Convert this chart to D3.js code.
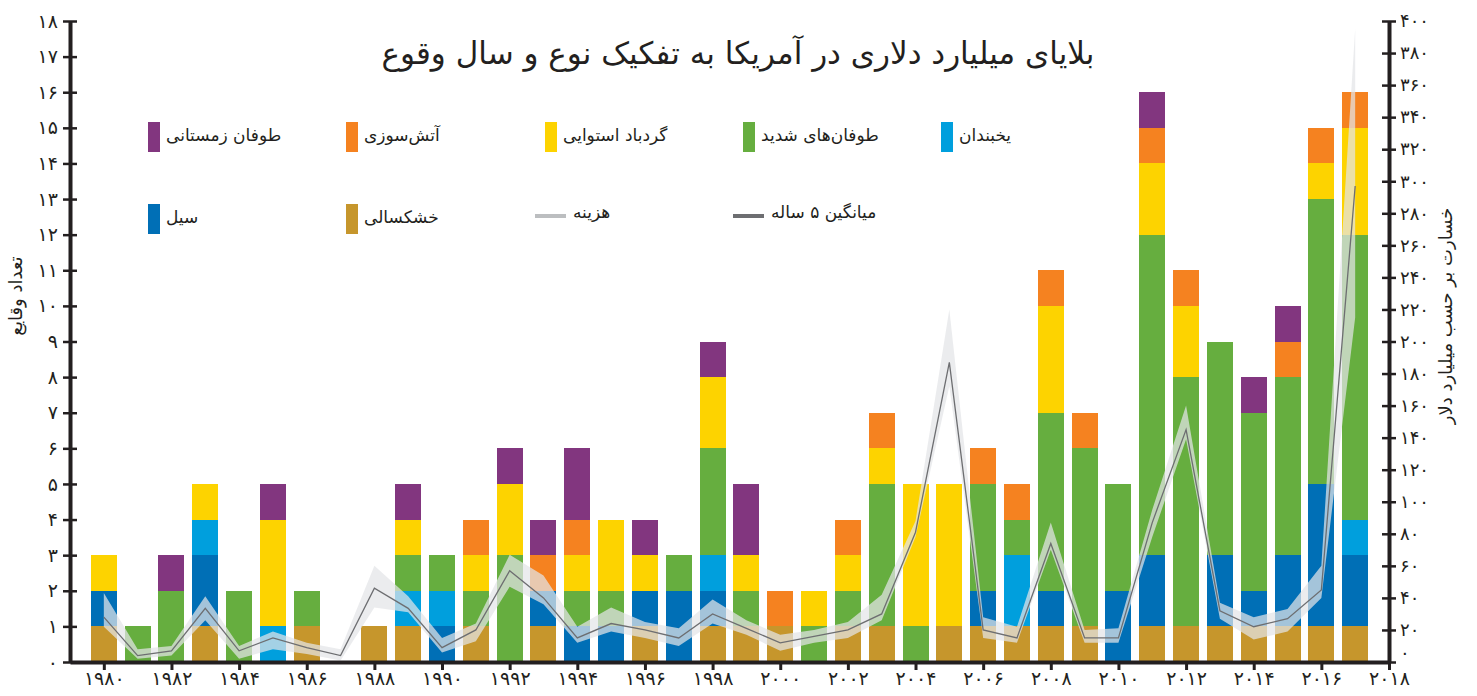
<!DOCTYPE html>
<html lang="fa">
<head>
<meta charset="UTF-8">
<title>بلایای میلیارد دلاری در آمریکا</title>
<script src="https://d3js.org/d3.v7.min.js"></script>
<style>
  body { margin: 0; background: #fff; }
  svg { display: block; font-family: "DejaVu Sans", sans-serif; }
  .axis path, .axis line { stroke: #231f20; }
  .axis text { fill: #231f20; font-family: "DejaVu Sans", sans-serif; }
</style>
</head>
<body>
<svg width="1477" height="696"></svg>
<script>
// one value per year, 1980 .. 2017
const years = [1980, 1981, 1982, 1983, 1984, 1985, 1986, 1987, 1988, 1989,
               1990, 1991, 1992, 1993, 1994, 1995, 1996, 1997, 1998, 1999,
               2000, 2001, 2002, 2003, 2004, 2005, 2006, 2007, 2008, 2009,
               2010, 2011, 2012, 2013, 2014, 2015, 2016, 2017];

// event counts by type (stack order bottom -> top)
const drought  = [1,0,0,1,0,0,1,0,1,1, 0,1,0,1,0,0,1,0,1,1, 1,0,1,1,0,1,1,1,1,1, 0,1,1,1,1,1,1,1];
const flood    = [1,0,0,2,0,0,0,0,0,0, 1,0,0,1,1,1,1,2,1,0, 0,0,0,0,0,0,1,0,1,0, 2,2,0,2,1,2,4,2];
const freeze   = [0,0,0,1,0,1,0,0,0,1, 1,0,0,0,0,0,0,0,1,0, 0,0,0,0,0,0,0,2,0,0, 0,0,0,0,0,0,0,1];
const severe   = [0,1,2,0,2,0,1,0,0,1, 1,1,3,0,1,1,0,1,3,1, 0,1,1,4,1,0,3,1,5,5, 3,9,7,6,5,5,8,8];
const tropical = [1,0,0,1,0,3,0,0,0,1, 0,1,2,0,1,2,1,0,2,1, 0,1,1,1,4,4,0,0,3,0, 0,2,2,0,0,0,1,3];
const wildfire = [0,0,0,0,0,0,0,0,0,0, 0,1,0,1,1,0,0,0,0,0, 1,0,1,1,0,0,1,1,1,1, 0,1,1,0,0,1,1,1];
const winter   = [0,0,1,0,0,1,0,0,0,1, 0,0,1,1,2,0,1,0,1,2, 0,0,0,0,0,0,0,0,0,0, 0,1,0,0,1,1,0,0];

// cost in billion dollars (right axis): band and line
const costUpper = [43,8,10,41,10,19,12,8,60,41, 15,24,67,54,22,34,25,21,39,26, 17,20,25,42,88,220,28,22,87,20, 21,95,160,37,28,33,60,395];
const costLower = [22,2,4,26,2,8,5,1,34,31, 6,13,47,36,12,19,15,10,24,17, 7,12,15,26,78,172,15,12,70,12, 12,78,139,27,14,19,40,215];
const avgLine   = [28,4,7,33.5,7,15,9,4,46,33.5, 9,20,57,40,15,24,20,15,30,21, 12,16,20,30,81,187,20,15,74,15, 15,87,145,32,22,27,45,297];

// tick labels
const yearTicks  = [1980,1982,1984,1986,1988,1990,1992,1994,1996,1998,2000,2002,2004,2006,2008,2010,2012,2014,2016,2018];
const countTicks = [0,1,2,3,4,5,6,7,8,9,10,11,12,13,14,15,16,17,18];
const costTicks  = [0,20,40,60,80,100,120,140,160,180,200,220,240,260,280,300,320,340,360,380,400];

const keys = ["drought", "flood", "freeze", "severe", "tropical", "wildfire", "winter"];
const series = { drought, flood, freeze, severe, tropical, wildfire, winter };
const colors = {
  drought: "#c6962c", flood: "#006fb6", freeze: "#009fdd", severe: "#66ae3f",
  tropical: "#fdd300", wildfire: "#f58220", winter: "#82367f"
};
const names = {
  drought: "خشکسالی", flood: "سیل", freeze: "یخبندان", severe: "طوفان‌های شدید",
  tropical: "گردباد استوایی", wildfire: "آتش‌سوزی", winter: "طوفان زمستانی"
};

const faDigits = "۰۱۲۳۴۵۶۷۸۹";
const fa = n => String(n).replace(/\d/g, d => faDigits[d]);

const rows = years.map((year, i) => {
  const row = { year };
  keys.forEach(k => row[k] = series[k][i]);
  return row;
});

const svg = d3.select("svg");

const x = d3.scaleLinear().domain([1979, 2018]).range([70, 1389]);
const yCount = d3.scaleLinear().domain([0, 18]).range([662, 21]);
const yCost = d3.scaleLinear().domain([0, 400]).range([662, 21]);

// title
svg.append("text")
  .attr("x", 738).attr("y", 64)
  .attr("text-anchor", "middle")
  .attr("direction", "rtl")
  .attr("font-size", 31)
  .attr("fill", "#231f20")
  .text("بلایای میلیارد دلاری در آمریکا به تفکیک نوع و سال وقوع");

// stacked bars
const stacked = d3.stack().keys(keys)(rows);
svg.append("g")
  .selectAll("g")
  .data(stacked)
  .join("g")
  .attr("fill", d => colors[d.key])
  .selectAll("rect")
  .data(d => d)
  .join("rect")
  .attr("shape-rendering", "crispEdges")
  .attr("x", d => x(d.data.year) - 13)
  .attr("width", 26)
  .attr("y", d => yCount(d[1]))
  .attr("height", d => yCount(d[0]) - yCount(d[1]));

// cost band + line
const area = d3.area()
  .x((d, i) => x(years[i]))
  .y0((d, i) => yCost(costLower[i]))
  .y1((d, i) => yCost(costUpper[i]));
svg.append("path")
  .datum(years)
  .attr("d", area)
  .attr("fill", "#e3e5e8")
  .attr("fill-opacity", 0.72);

const line = d3.line()
  .x((d, i) => x(years[i]))
  .y(d => yCost(d));
svg.append("path")
  .datum(avgLine)
  .attr("d", line)
  .attr("fill", "none")
  .attr("stroke", "#6d6e71")
  .attr("stroke-width", 1.3);

// axes
const xAxis = svg.append("g")
  .attr("class", "axis")
  .attr("transform", "translate(0,662)")
  .call(d3.axisBottom(x).tickValues(yearTicks).tickSize(8).tickSizeOuter(0).tickPadding(2).tickFormat(fa));
xAxis.select(".domain").attr("stroke-width", 4);
xAxis.selectAll(".tick line").attr("stroke-width", 3);
xAxis.selectAll("text").attr("font-size", 19);

const yAxisL = svg.append("g")
  .attr("class", "axis")
  .attr("transform", "translate(70,0)")
  .call(d3.axisLeft(yCount).tickValues(countTicks).tickSize(7).tickSizeOuter(0).tickPadding(5).tickFormat(fa));
yAxisL.select(".domain").attr("stroke-width", 4);
yAxisL.selectAll(".tick line").attr("x1", 7).attr("stroke-width", 2.5);
yAxisL.selectAll("text").attr("font-size", 19);

const yAxisR = svg.append("g")
  .attr("class", "axis")
  .attr("transform", "translate(1389,0)")
  .call(d3.axisRight(yCost).tickValues(costTicks).tickSize(7).tickSizeOuter(0).tickPadding(4).tickFormat(fa));
yAxisR.select(".domain").attr("stroke-width", 4);
yAxisR.selectAll(".tick line").attr("x1", -7).attr("stroke-width", 2.5);
yAxisR.selectAll("text").attr("font-size", 18);
// the zero label sits just above the corner, clear of the last year label
yAxisR.selectAll(".tick").filter(d => d === 0).select("text").attr("y", -9);

// axis titles
svg.append("text")
  .attr("transform", "translate(22,296) rotate(-90)")
  .attr("text-anchor", "middle")
  .attr("direction", "rtl")
  .attr("font-size", 18)
  .attr("fill", "#231f20")
  .text("تعداد وقایع");

svg.append("text")
  .attr("transform", "translate(1452,316) rotate(-90)")
  .attr("text-anchor", "middle")
  .attr("direction", "rtl")
  .attr("font-size", 18)
  .attr("fill", "#231f20")
  .text("خسارت بر حسب میلیارد دلار");

// legend: two rows, five columns
const legendCols = [148, 346, 545, 743, 941];
const legendRows = [137, 219];
const legendBars = [
  { key: "winter", row: 0, col: 0 }, { key: "wildfire", row: 0, col: 1 },
  { key: "tropical", row: 0, col: 2 }, { key: "severe", row: 0, col: 3 },
  { key: "freeze", row: 0, col: 4 }, { key: "flood", row: 1, col: 0 },
  { key: "drought", row: 1, col: 1 }
];
const legendLines = [
  { label: "هزینه", color: "#bcbec0", row: 1, col: 2 },
  { label: "میانگین ۵ ساله", color: "#6d6e71", row: 1, col: 3 }
];

const legend = svg.append("g").attr("font-size", 17).attr("fill", "#231f20");
legendBars.forEach(d => {
  const lx = legendCols[d.col], ly = legendRows[d.row];
  legend.append("rect")
    .attr("x", lx).attr("y", ly - 15)
    .attr("width", 12).attr("height", 30)
    .attr("fill", colors[d.key]);
  legend.append("text")
    .attr("x", lx + 18).attr("y", ly + 4)
    .attr("direction", "rtl")
    .attr("text-anchor", "end")
    .text(names[d.key]);
});
legendLines.forEach(d => {
  const lx = legendCols[d.col], ly = legendRows[d.row];
  legend.append("line")
    .attr("x1", lx - 10).attr("x2", lx + 21)
    .attr("y1", ly - 3).attr("y2", ly - 3)
    .attr("stroke", d.color)
    .attr("stroke-width", 4);
  legend.append("text")
    .attr("x", lx + 28).attr("y", ly - 1)
    .attr("direction", "rtl")
    .attr("text-anchor", "end")
    .text(d.label);
});
</script>
</body>
</html>
